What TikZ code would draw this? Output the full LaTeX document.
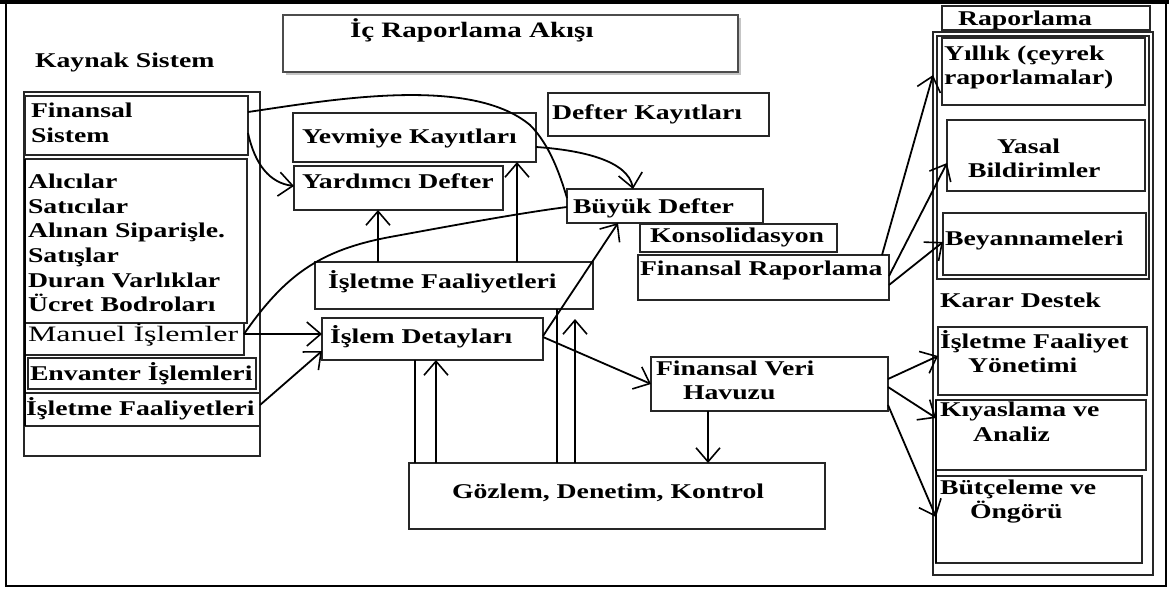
\documentclass[tikz,border=0pt]{standalone}
\usepackage{fontspec}
\setmainfont{Liberation Serif}[FakeStretch=1.32]
\usetikzlibrary{arrows.meta,shadows}

\begin{document}
\begin{tikzpicture}[x=1pt,y=-1pt,
  box/.style={draw=black!85, line width=1.1pt, inner sep=0pt, outer sep=0pt, anchor=north west},
  txt/.style={anchor=base west, inner sep=0pt, outer sep=0pt, font=\fontsize{21}{25}\selectfont\bfseries},
  flow/.style={line width=1.8pt, -{Straight Barb[length=14pt,width=24pt,line width=1.6pt]}},
  link/.style={line width=1.8pt},
]
\useasboundingbox (0,0) rectangle (1169,590);

% page frame
\draw[line width=1.8pt] (6,3) rectangle (1166,586);
\draw[line width=4.5pt] (0,1.5) -- (1169,1.5);

% title
\node[box, draw=black!70, fill=white, minimum width=455pt, minimum height=57pt,
      drop shadow={shadow xshift=2.5pt, shadow yshift=-2.5pt, fill=black!45}] (title) at (283,15) {};
\node[txt, font=\fontsize{22}{26}\selectfont\bfseries] (t-title) at (350,37) {İç Raporlama Akışı};

% source systems
\node[txt] (t-kaynak) at (35,67) {Kaynak Sistem};
\node[box, minimum width=236pt, minimum height=364pt] (ksys) at (24,92) {};
\node[box, minimum width=223pt, minimum height=59pt] (fin) at (25,96) {};
\node[box, minimum width=222pt, minimum height=164pt] (alici) at (25,159) {};
\node[box, minimum width=219pt, minimum height=32pt] (man) at (25,323) {};
\node[box, minimum width=228pt, minimum height=31pt] (env) at (28,358) {};
\node[box, minimum width=235pt, minimum height=33pt] (isfl) at (25,393) {};
\draw[line width=2.2pt] (alici.north west) -- (isfl.south west);

\node[txt] (t-fin1) at (31,117) {Finansal};
\node[txt] (t-fin2) at (31,142) {Sistem};
\node[txt] (t-al1) at (28,188) {Alıcılar};
\node[txt] (t-al2) at (28,213) {Satıcılar};
\node[txt] (t-al3) at (28,237) {Alınan Siparişle.};
\node[txt] (t-al4) at (28,262) {Satışlar};
\node[txt] (t-al5) at (28,287) {Duran Varlıklar};
\node[txt] (t-al6) at (28,311) {Ücret Bodroları};
\node[txt, font=\fontsize{22}{26}\selectfont] (t-man) at (28,341) {\scalebox{1.1}[1]{Manuel İşlemler}};
\node[txt] (t-env) at (30,380) {Envanter İşlemleri};
\node[txt] (t-isfl) at (26,415) {İşletme Faaliyetleri};

% ledgers and operations
\node[box, minimum width=243pt, minimum height=49pt] (yev) at (293,113) {};
\node[box, minimum width=209pt, minimum height=44pt] (yard) at (294,166) {};
\node[box, minimum width=278pt, minimum height=47pt] (ifa) at (315,262) {};
\node[box, minimum width=221pt, minimum height=42pt] (islem) at (322,318) {};
\node[box, minimum width=221pt, minimum height=43pt] (defk) at (548,93) {};
\node[box, minimum width=196pt, minimum height=34pt] (buyuk) at (567,189) {};
\node[box, minimum width=197pt, minimum height=28pt] (kons) at (640,224) {};
\node[box, minimum width=251pt, minimum height=45pt] (frap) at (638,255) {};
\node[box, minimum width=237pt, minimum height=54pt] (fvh) at (651,357) {};
\node[box, minimum width=416pt, minimum height=66pt] (gozlem) at (409,463) {};

\node[txt] (t-yev) at (302,143) {Yevmiye Kayıtları};
\node[txt] (t-yard) at (302,188) {Yardımcı Defter};
\node[txt] (t-ifa) at (328,288) {İşletme Faaliyetleri};
\node[txt] (t-islem) at (330,343) {İşlem Detayları};
\node[txt] (t-defk) at (552,119) {Defter Kayıtları};
\node[txt] (t-buyuk) at (573,213) {Büyük Defter};
\node[txt] (t-kons) at (650,242) {Konsolidasyon};
\node[txt] (t-frap) at (640,275) {Finansal Raporlama};
\node[txt] (t-fvh1) at (656,375) {Finansal Veri};
\node[txt] (t-fvh2) at (683,399) {Havuzu};
\node[txt] (t-goz) at (452,498) {Gözlem, Denetim, Kontrol};

% reporting column
\node[box, minimum width=208pt, minimum height=24pt] (rap) at (942,6) {};
\node[box, minimum width=220pt, minimum height=543pt] (rgrp) at (933,32) {};
\node[box, minimum width=212pt, minimum height=243pt] (rgin) at (937,36) {};
\node[box, minimum width=203pt, minimum height=67pt] (yil) at (942,38) {};
\node[box, minimum width=198pt, minimum height=71pt] (yasal) at (947,120) {};
\node[box, minimum width=203pt, minimum height=62pt] (bey) at (943,213) {};
\node[box, minimum width=209pt, minimum height=68pt] (ifay) at (938,327) {};
\node[box, minimum width=210pt, minimum height=70pt] (kiy) at (936,400) {};
\node[box, minimum width=206pt, minimum height=87pt] (but) at (936,476) {};
\draw[line width=2pt] (kiy.north west) -- (but.south west);

\node[txt] (t-rap) at (958,25) {Raporlama};
\node[txt] (t-yil1) at (944,60) {Yıllık (çeyrek};
\node[txt] (t-yil2) at (944,84) {raporlamalar)};
\node[txt] (t-yas1) at (997,153) {Yasal};
\node[txt] (t-yas2) at (968,177) {Bildirimler};
\node[txt] (t-bey) at (945,245) {Beyannameleri};
\node[txt] (t-karar) at (940,307) {Karar Destek};
\node[txt] (t-ifay1) at (940,348) {İşletme Faaliyet};
\node[txt] (t-ifay2) at (968,372) {Yönetimi};
\node[txt] (t-kiy1) at (940,416) {Kıyaslama ve};
\node[txt] (t-kiy2) at (973,441) {Analiz};
\node[txt] (t-but1) at (940,494) {Bütçeleme ve};
\node[txt] (t-but2) at (970,518) {Öngörü};

% connectors
\draw[link] (fin.east |- 0,112) .. controls (330,100) and (470,75) .. (530,125)
  .. controls (550,145) and (560,175) .. (buyuk.west |- 0,198);
\draw[flow] (fin.east |- 0,133) .. controls (255,165) and (270,183) .. (yard.west |- 0,186);
\draw[flow] (yev.east |- 0,147) .. controls (580,150) and (628,160) .. (633,0 |- buyuk.north);
\draw[link] (man.east |- 0,334) .. controls (285,275) and (320,250) .. (390,237)
  .. controls (450,226) and (520,213) .. (buyuk.west |- 0,207);
\draw[flow] (man.east |- 0,334) -- (islem.west |- 0,334);
\draw[flow] (isfl.east |- 0,405) -- (islem.west |- 0,351);
\draw[flow] (378,0 |- ifa.north) -- (378,0 |- yard.south);
\draw[flow] (517,0 |- ifa.north) -- (517,0 |- yev.south);
\draw[flow] (islem.east |- 0,336) -- (618,0 |- buyuk.south);
\draw[flow] (islem.east |- 0,337) -- (fvh.west |- 0,384);
\draw[link] (415,0 |- gozlem.north) -- (415,0 |- islem.south);
\draw[flow] (436,0 |- gozlem.north) -- (436,0 |- islem.south);
\draw[link] (557,0 |- gozlem.north) -- (557,0 |- ifa.south);
\coordinate (open) at (575,319);
\draw[flow] (575,0 |- gozlem.north) -- (open);
\draw[flow] (708,0 |- fvh.south) -- (708,0 |- gozlem.north);
\draw[flow] (fvh.east |- 0,379) -- (ifay.west |- 0,356);
\draw[flow] (fvh.east |- 0,387) -- (kiy.west |- 0,418);
\draw[flow] (fvh.east |- 0,405) -- (but.west |- 0,517);
\draw[flow] (882,0 |- frap.north) -- (rgrp.west |- 0,75);
\draw[flow] (frap.east |- 0,276) -- (yasal.west |- 0,163);
\draw[flow] (frap.east |- 0,285) -- (bey.west |- 0,242);
\end{tikzpicture}
\end{document}
